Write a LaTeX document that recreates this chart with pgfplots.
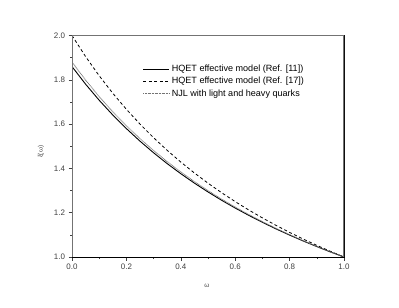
\documentclass[border=0pt]{standalone}
\usepackage{fontspec}
\setmainfont{Liberation Sans}
\usepackage{pgfplots}
\pgfplotsset{compat=1.18}
\begin{document}
\begin{tikzpicture}[x=1bp,y=1bp]
\useasboundingbox (0,0) rectangle (399,308);
\begin{axis}[
  at={(72bp,51bp)}, anchor=south west,
  scale only axis, width=272bp, height=221.5bp,
  xmin=0, xmax=1, ymin=1, ymax=2,
  xtick={0,0.2,...,1}, ytick={1,1.2,...,2},
  minor xtick={0.1,0.3,...,0.9}, minor ytick={1.1,1.3,...,1.9},
  xtick pos=left, ytick pos=left,
  tick align=outside,
  major tick length=3.5bp, minor tick length=2bp,
  every tick/.style={black!75, line width=0.5bp},
  xticklabel style={/pgf/number format/fixed, /pgf/number format/fixed zerofill, /pgf/number format/precision=1, font=\fontsize{8}{9}\selectfont, text=black!75},
  yticklabel style={/pgf/number format/fixed, /pgf/number format/fixed zerofill, /pgf/number format/precision=1, font=\fontsize{8}{9}\selectfont, text=black!75},
  /pgf/number format/assume math mode=true,
  axis line style={black, line width=0.8bp},
  every axis y label/.style={at={(axis description cs:-0.114,0.475)}, rotate=90, anchor=center, font=\fontsize{6.5}{7}\selectfont, text=black!70},
  every axis x label/.style={at={(axis description cs:0.496,-0.131)}, anchor=center, font=\fontsize{6.5}{7}\selectfont, text=black!70},
  xlabel={ω}, ylabel={ξ(ω)},
  legend style={at={(0.26,0.875)}, anchor=north west, draw=none, fill=none, font=\fontsize{9.1}{10}\selectfont, row sep=0bp, inner sep=0pt},
  legend cell align=left,
  legend image code/.code={\draw[#1] (0bp,0bp) -- (26bp,0bp);},
]
\addplot[black, line width=0.9bp] coordinates {
(0,1.8597)(0.05,1.7802)(0.1,1.7076)(0.15,1.6410)(0.2,1.5797)(0.25,1.5230)(0.3,1.4704)(0.35,1.4215)(0.4,1.3761)(0.45,1.3335)(0.5,1.2937)(0.55,1.2562)(0.6,1.2210)(0.65,1.1879)(0.7,1.1566)(0.75,1.1269)(0.8,1.0989)(0.85,1.0723)(0.9,1.0470)(0.95,1.0229)(1,1.0)};
\addlegendentry{HQET effective model (Ref. [11])}
\addplot[black, line width=0.8bp, dash pattern=on 3bp off 2.5bp] coordinates {
(0,2.0)(0.05,1.9048)(0.1,1.8182)(0.15,1.7391)(0.2,1.6667)(0.25,1.6)(0.3,1.5385)(0.35,1.4815)(0.4,1.4286)(0.45,1.3793)(0.5,1.3333)(0.55,1.2903)(0.6,1.25)(0.65,1.2121)(0.7,1.1765)(0.75,1.1429)(0.8,1.1111)(0.85,1.0811)(0.9,1.0526)(0.95,1.0256)(1,1.0)};
\addlegendentry{HQET effective model (Ref. [17])}
\addplot[black!55, line width=0.8bp, dash pattern=on 0.8bp off 0.6bp] coordinates {
(0,1.880)(0.05,1.7988)(0.1,1.7239)(0.15,1.6555)(0.2,1.5925)(0.25,1.5344)(0.3,1.4807)(0.35,1.4305)(0.4,1.3840)(0.45,1.3404)(0.5,1.2997)(0.55,1.2614)(0.6,1.2253)(0.65,1.1916)(0.7,1.1595)(0.75,1.1293)(0.8,1.1008)(0.85,1.0737)(0.9,1.0478)(0.95,1.0233)(1,1.0)};
\addlegendentry{NJL with light and heavy quarks}
\draw[black!55, line width=1.4bp] (rel axis cs:0,1) -- (rel axis cs:1,1) -- (rel axis cs:1,0);
\draw[black!55, line width=0.9bp] (rel axis cs:0,0) -- (rel axis cs:0,1);
\end{axis}
\end{tikzpicture}
\end{document}
